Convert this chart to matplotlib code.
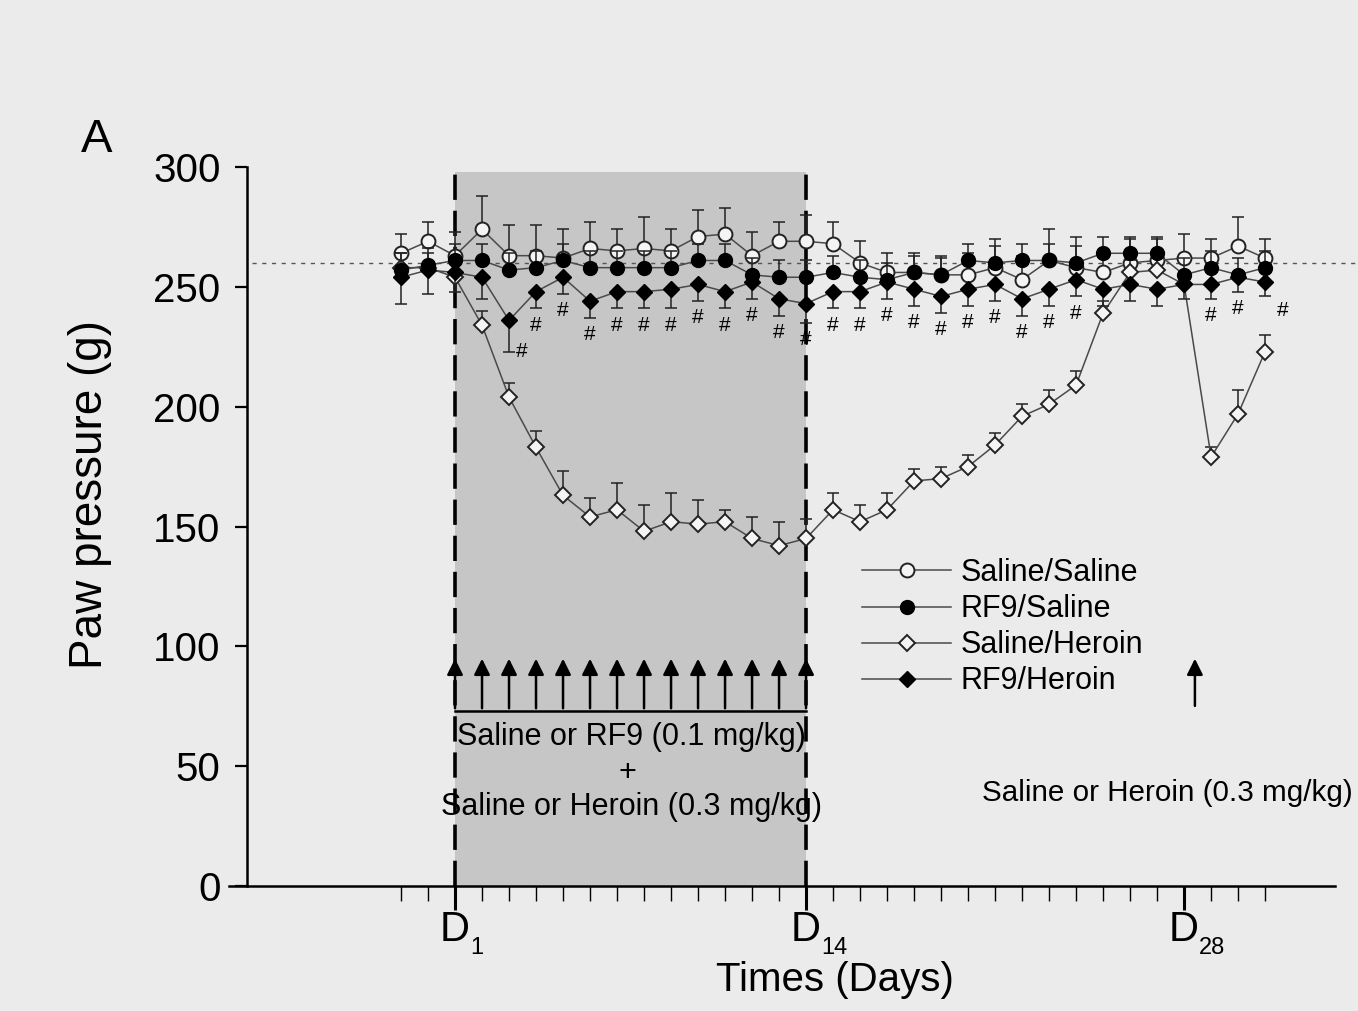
import matplotlib.pyplot as plt
from matplotlib.transforms import blended_transform_factory

plt.rcParams['font.family'] = ['Liberation Sans', 'DejaVu Sans']

# days of test, D1..D14 = daily injections, D28 = challenge
days = list(range(-1, 32))

sal_sal = [264, 269, 263, 274, 263, 263, 262, 266, 265, 266, 265, 271, 272, 263, 269, 269,
           268, 260, 256, 256, 255, 255, 258, 253, 261, 258, 256, 260, 261, 262, 262, 267, 262]
sal_sal_err = [8, 8, 10, 14, 13, 13, 12, 11, 9, 13, 9, 11, 11, 10, 8, 11,
               9, 9, 8, 8, 8, 9, 12, 10, 13, 13, 8, 10, 9, 10, 8, 12, 8]

rf9_sal = [257, 259, 261, 261, 257, 258, 261, 258, 258, 258, 258, 261, 261, 255, 254, 254,
           256, 254, 253, 256, 255, 261, 260, 261, 261, 260, 264, 264, 264, 255, 258, 255, 258]
rf9_sal_err = [7, 7, 7, 7, 7, 7, 7, 7, 7, 7, 7, 7, 7, 7, 7, 7,
               7, 7, 7, 7, 7, 7, 7, 7, 7, 7, 7, 7, 7, 7, 7, 7, 7]

sal_her = [258, 258, 254, 234, 204, 183, 163, 154, 157, 148, 152, 151, 152, 145, 142, 145,
           157, 152, 157, 169, 170, 175, 184, 196, 201, 209, 239, 256, 257, 251, 179, 197, 223]
sal_her_err = [6, 6, 6, 6, 6, 7, 10, 8, 11, 11, 12, 10, 5, 9, 10, 8,
               7, 7, 7, 5, 5, 5, 5, 5, 6, 6, 5, 5, 5, 5, 4, 10, 7]

rf9_her = [254, 257, 256, 254, 236, 248, 254, 244, 248, 248, 249, 251, 248, 252, 245, 243,
           248, 248, 252, 249, 246, 249, 251, 245, 249, 253, 249, 251, 249, 251, 251, 254, 252]
rf9_her_err = [11, 10, 8, 9, 13, 7, 7, 7, 7, 7, 8, 7, 7, 7, 7, 8,
               7, 7, 7, 7, 7, 7, 7, 7, 7, 7, 7, 7, 7, 6, 6, 6, 6]

sig_days = list(range(4, 25)) + [29, 30]
inj_days = list(range(1, 15))
challenge_day = 28.4
baseline = 260

bg = '#ebebeb'
fig = plt.figure(figsize=(13.58, 10.11), dpi=100, facecolor=bg)
ax = fig.add_axes([229 / 1358, 125 / 1011, 1129 / 1358, 719 / 1011])
ax.set_facecolor('none')
ax.set_xlim(-7.37, 34.44)
ax.set_ylim(0, 300)

# treatment period
ax.axvspan(1, 14, ymin=0, ymax=298 / 300, color='#c6c6c6', zorder=0, lw=0)
for d in (1, 14):
    ax.plot([d, d], [0, 298], ls=(0, (7, 3)), lw=2.6, color='k', zorder=1)
ax.plot([-6.5, 34.44], [baseline, baseline], ls=(0, (3, 4)), lw=1, color='#555555',
        clip_on=False, zorder=1)

zeros = [0] * len(days)
lc = '#4a4a4a'
ax.errorbar(days, sal_sal, yerr=[zeros, sal_sal_err], fmt='none', ecolor='#222222',
            elinewidth=1.1, capsize=4, capthick=1.1, zorder=2.5)
ax.plot(days, sal_sal, '-o', color=lc, lw=1.1, ms=10, mfc='#f4f4f4', mec='#222222',
        mew=1.4, label='Saline/Saline', zorder=3)
ax.errorbar(days, rf9_sal, yerr=[zeros, rf9_sal_err], fmt='none', ecolor='#222222',
            elinewidth=1.1, capsize=4, capthick=1.1, zorder=4.5)
ax.plot(days, rf9_sal, '-o', color=lc, lw=1.1, ms=10, mfc='k', mec='k',
        label='RF9/Saline', zorder=5)
ax.errorbar(days, sal_her, yerr=[zeros, sal_her_err], fmt='none', ecolor='#222222',
            elinewidth=1.1, capsize=4, capthick=1.1, zorder=3.5)
ax.plot(days, sal_her, '-D', color=lc, lw=1.1, ms=8, mfc='#f4f4f4', mec='#222222',
        mew=1.4, label='Saline/Heroin', zorder=4)
ax.errorbar(days, rf9_her, yerr=[rf9_her_err, zeros], fmt='none', ecolor='#222222',
            elinewidth=1.1, capsize=4, capthick=1.1, zorder=5.5)
ax.plot(days, rf9_her, '-D', color=lc, lw=1.1, ms=8.5, mfc='k', mec='k',
        label='RF9/Heroin', zorder=6)

# significance marks
for d in sig_days:
    i = days.index(d)
    ax.text(d, rf9_her[i] - rf9_her_err[i] - 3, '#', fontsize=15, ha='center', va='top', zorder=7)
i = days.index(3)
ax.text(3.25, rf9_her[i] - rf9_her_err[i], '#', fontsize=15, ha='left', va='center', zorder=7)
i = days.index(31)
ax.text(31.45, rf9_her[i] - 12, '#', fontsize=15, ha='left', va='center', zorder=7)

# injections
ax.plot([1, 14], [73, 73], color='k', lw=1.8, zorder=2)
for d in inj_days:
    ax.annotate('', xy=(d, 96), xytext=(d, 73),
                arrowprops=dict(arrowstyle='-|>', color='k', lw=1.8, mutation_scale=24))
ax.annotate('', xy=(challenge_day, 96), xytext=(challenge_day, 74),
            arrowprops=dict(arrowstyle='-|>', color='k', lw=1.8, mutation_scale=24))

ax.text(7.55, 62, 'Saline or RF9 (0.1 mg/kg)', fontsize=22, ha='center', va='center')
ax.text(7.4, 47, '+', fontsize=22, ha='center', va='center')
ax.text(7.55, 33, 'Saline or Heroin (0.3 mg/kg)', fontsize=22, ha='center', va='center')
ax.text(20.5, 39, 'Saline or Heroin (0.3 mg/kg)', fontsize=21.3, ha='left', va='center')

# axes styling
for s in ('top', 'right'):
    ax.spines[s].set_visible(False)
ax.spines['left'].set_position(('data', -6.7))
ax.spines['left'].set_bounds(0, 300)
ax.spines['bottom'].set_bounds(-7.37, 33.6)
ax.spines['left'].set_linewidth(1.8)
ax.spines['bottom'].set_linewidth(1.8)

ax.set_yticks(range(0, 301, 50))
ax.tick_params(axis='y', direction='out', length=9, width=1.6, labelsize=29, pad=10)
ax.set_xticks([1, 14, 28], ['D', 'D', 'D'])
ax.set_xticks(days, minor=True)
ax.tick_params(axis='x', which='major', direction='out', length=17, width=2.2,
               labelsize=30, pad=0)
ax.tick_params(axis='x', which='minor', direction='out', length=11, width=1)

tr = blended_transform_factory(ax.transData, ax.transAxes)
for d, s in zip([1, 14, 28], ['1', '14', '28']):
    ax.text(d + 0.55, -0.071, s, fontsize=17, ha='left', va='top', transform=tr)

ax.set_xlabel('Times (Days)', fontsize=29)
ax.xaxis.set_label_coords(0.537, -0.105)
ax.set_ylabel('Paw pressure (g)', fontsize=33)
ax.yaxis.set_label_coords(-0.104, 0.544)
fig.text(97 / 1358, 1 - 140 / 1011, 'A', fontsize=34, ha='center', va='center')

ax.legend(loc='upper left', bbox_to_anchor=(0.561, 0.456), frameon=False, fontsize=22,
          handlelength=2.9, handletextpad=0.3, labelspacing=0.2, borderpad=0,
          borderaxespad=0)

fig.savefig('out.png', dpi=100, facecolor=bg)
